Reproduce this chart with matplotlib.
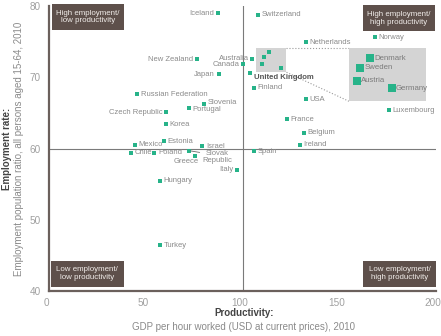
import matplotlib
matplotlib.use("Agg")
import matplotlib.pyplot as plt
import matplotlib.transforms as mtransforms
from matplotlib.patches import Rectangle

plt.rcParams['font.family'] = ['Liberation Sans', 'DejaVu Sans']

# OECD countries: GDP per hour worked (USD) vs employment rate (%), 2010
countries = ["Iceland", "Switzerland", "New Zealand", "Japan", "Canada", "Australia",
             "United Kingdom", "Finland", "Netherlands", "Norway", "Luxembourg", "USA",
             "France", "Belgium", "Ireland", "Spain", "Italy", "Slovak\nRepublic", "Greece",
             "Israel", "Estonia", "Poland", "Chile", "Mexico", "Korea", "Czech Republic",
             "Portugal", "Slovenia", "Russian Federation", "Hungary", "Turkey"]
productivity = [87.1, 107.9, 76.5, 87.6, 100.2, 105.0, 104.0, 106.0, 132.8, 168.4, 175.4,
                132.8, 123.0, 131.8, 129.7, 106.0, 97.1, 72.3, 75.3, 79.2, 59.3, 54.5,
                42.6, 44.5, 60.5, 60.5, 72.3, 80.3, 45.5, 57.4, 57.4]
employment = [79.0, 78.8, 72.5, 70.4, 71.8, 72.6, 70.6, 68.5, 74.9, 75.6, 65.4, 66.9,
              64.1, 62.2, 60.5, 59.6, 57.0, 59.7, 58.9, 60.35, 61.0, 59.4, 59.4, 60.5,
              63.4, 65.1, 65.7, 66.3, 67.6, 55.5, 46.4]
left_labels = ["Iceland", "New Zealand", "Japan", "Canada", "Australia", "Czech Republic", "Italy"]
# small vertical nudges (points) for labels that sit close together
label_dy = {"Portugal": -1.2, "Slovenia": 0.8}

# crowded cluster shown again in the magnified box
zoom_countries = ["Denmark", "Sweden", "Austria", "Germany"]
zoom_productivity = [113.9, 111.0, 110.0, 119.9]
zoom_employment = [73.6, 72.9, 71.9, 71.3]

quadrants = [("High employment/\nlow productivity", 0.007, 0.916),
             ("High employment/\nhigh productivity", 0.810, 0.912),
             ("Low employment/\nlow productivity", 0.005, 0.015),
             ("Low employment/\nhigh productivity", 0.812, 0.015)]

green = '#27b389'
label_grey = '#8a8a8a'
box_brown = '#5e504b'

fig = plt.figure(figsize=(4.41, 3.36), dpi=100)
ax = fig.add_axes([0.111, 0.134, 0.878, 0.848])
ax.set_xlim(0, 200)
ax.set_ylim(40, 80)

for side in ['top', 'right']:
    ax.spines[side].set_visible(False)
for side in ['left', 'bottom']:
    ax.spines[side].set_color('#6b605c')
    ax.spines[side].set_linewidth(1.6)
ax.set_xticks([0, 50, 100, 150, 200])
ax.set_yticks([40, 50, 60, 70, 80])
ax.tick_params(length=0, labelsize=7.2, labelcolor='#a0a0a0', pad=6)
ax.tick_params(axis='x', pad=5)
# nudge the x tick labels a little to the left
shift = mtransforms.ScaledTranslation(-3 / 100, 0, fig.dpi_scale_trans)
for lab in ax.get_xticklabels():
    lab.set_transform(lab.get_transform() + shift)

ax.axvline(100, color='#7a7a7a', lw=0.8, zorder=1)
ax.axhline(60, color='#7a7a7a', lw=0.8, zorder=1)

ax.scatter(productivity, employment, s=9, marker='s', color=green, zorder=3, linewidths=0)

for name, x, y in zip(countries, productivity, employment):
    dy = label_dy.get(name, 0)
    if name == "United Kingdom":
        ax.annotate(name, (x, y), xytext=(2.5, -3), textcoords='offset points',
                    ha='left', va='center', fontsize=5.6, color='#555555', fontweight='bold')
    elif name == "Greece":
        ax.annotate(name, (x, y), xytext=(-6.5, -3.8), textcoords='offset points',
                    ha='center', va='center', fontsize=5.5, color=label_grey)
    elif name.startswith("Slovak"):
        ax.annotate(name, (x, y), xytext=(20.5, -4.8), textcoords='offset points',
                    ha='center', va='center', fontsize=5.5, color=label_grey, linespacing=1.0,
                    arrowprops=dict(arrowstyle='-', color='#6a6a6a', lw=0.6,
                                    shrinkA=0, shrinkB=1.5, relpos=(0.05, 0.8)))
    elif name in left_labels:
        ax.annotate(name, (x, y), xytext=(-2.5, dy), textcoords='offset points',
                    ha='right', va='center', fontsize=5.5, color=label_grey)
    else:
        ax.annotate(name, (x, y), xytext=(2.5, dy), textcoords='offset points',
                    ha='left', va='center', fontsize=5.5, color=label_grey)

# small highlight box around the cluster plus its markers
src_x0, src_x1, src_y0, src_y1 = 107.2, 122.7, 70.7, 74.1
ax.add_patch(Rectangle((src_x0, src_y0), src_x1 - src_x0, src_y1 - src_y0,
                       facecolor='#d4d4d4', edgecolor='none', zorder=2))
ax.scatter(zoom_productivity, zoom_employment, s=9, marker='s', color=green, zorder=3, linewidths=0)

# magnified view of the cluster
dst_x0, dst_y0, dst_w, dst_h = 155.2, 66.6, 39.8, 7.5
ins = ax.inset_axes([dst_x0, dst_y0, dst_w, dst_h], transform=ax.transData)
ins.set_facecolor('#d4d4d4')
ins.set_xlim(108.0, 129.6)
ins.set_ylim(70.3, 74.4)
ins.set_xticks([])
ins.set_yticks([])
for sp in ins.spines.values():
    sp.set_visible(False)
ins.scatter(zoom_productivity, zoom_employment, s=26, marker='s', color=green, linewidths=0)
for name, x, y in zip(zoom_countries, zoom_productivity, zoom_employment):
    ins.annotate(name, (x, y), xytext=(3, 0), textcoords='offset points',
                 ha='left', va='center', fontsize=5.6, color='#7a7a7a')

# dotted connectors between the two boxes
ax.plot([src_x1, dst_x0], [src_y1, dst_y0 + dst_h], ls=':', color='#9a9a9a', lw=0.8, zorder=1)
ax.plot([src_x1, dst_x0], [src_y0, dst_y0], ls=':', color='#9a9a9a', lw=0.8, zorder=1)

# quadrant captions
for text, qx, qy in quadrants:
    ax.add_patch(Rectangle((qx, qy), 0.188, 0.091, transform=ax.transAxes,
                           facecolor=box_brown, edgecolor='none', clip_on=False, zorder=4))
    ax.text(qx + 0.094, qy + 0.0455, text, transform=ax.transAxes, ha='center', va='center',
            fontsize=5.7, color='#f0ece9', linespacing=1.15, zorder=5)

# axis titles
fig.text(0.016, 0.558, "Employment rate:", rotation=90, ha='center', va='center',
         fontsize=7, fontweight='bold', color='#444444')
fig.text(0.043, 0.558, "Employment population ratio, all persons aged 15-64, 2010",
         rotation=90, ha='center', va='center', fontsize=7, color='#8a8a8a')
fig.text(0.553, 0.069, "Productivity:", ha='center', va='center',
         fontsize=7, fontweight='bold', color='#444444')
fig.text(0.553, 0.028, "GDP per hour worked (USD at current prices), 2010",
         ha='center', va='center', fontsize=7, color='#8a8a8a')

fig.savefig("out.png", dpi=100)
